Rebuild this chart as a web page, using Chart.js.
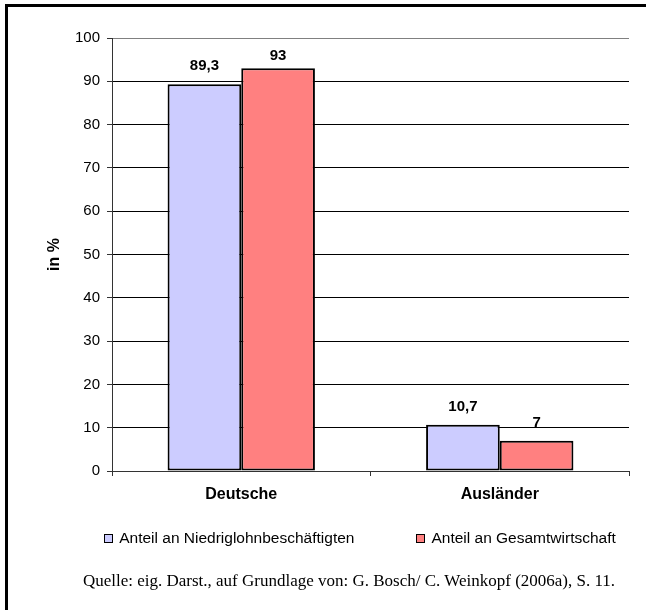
<!DOCTYPE html>
<html>
<head>
<meta charset="utf-8">
<title>Niedriglohn</title>
<script src="https://cdn.jsdelivr.net/npm/chart.js"></script>
<style>
    body { margin: 0; background: #fff; }
    #wrap { position: relative; width: 646px; height: 610px; overflow: hidden; }
    #rahmen { position: absolute; left: 5px; top: 4px; width: 760px; height: 700px; border: 3px solid #000; }
    canvas { position: absolute; left: 0; top: 0; }
    #legende {
        position: absolute; left: 0; top: 529px; width: 720px; height: 18px;
        display: flex; justify-content: center; gap: 62px;
        font-family: "Liberation Sans", Arial, sans-serif; font-size: 15.5px; line-height: 18px; color: #000;
    }
    #legende .eintrag { display: flex; align-items: center; white-space: nowrap; }
    #legende .kasten { width: 7px; height: 7px; border: 1px solid #000; margin-right: 6px; }
    #quelle {
        position: absolute; left: 0; top: 571px; width: 698px; line-height: 20px;
        text-align: center; font-family: "Liberation Serif", "Times New Roman", serif; font-size: 17px; color: #000;
    }
</style>
</head>
<body>
<div id="wrap">
    <div id="rahmen"></div>
    <canvas id="balken" width="646" height="610"></canvas>
    <div id="legende"></div>
    <div id="quelle">Quelle: eig. Darst., auf Grundlage von: G. Bosch/ C. Weinkopf (2006a), S. 11.</div>
</div>
<script>
var categories = ["Deutsche", "Ausländer"];
var seriesNames = ["Anteil an Niedriglohnbeschäftigten", "Anteil an Gesamtwirtschaft"];
var niedriglohn = [89.3, 10.7];
var gesamtwirtschaft = [93, 7];
var yMin = 0;
var yMax = 100;
var yStep = 10;

var schrift = "'Liberation Sans', Arial, sans-serif";

// Werte ueber den Balken (mit Komma)
var wertePlugin = {
    id: 'werte',
    afterDatasetsDraw: function (chart) {
        var ctx = chart.ctx;
        var area = chart.chartArea;
        ctx.save();
        ctx.font = "bold 15px " + schrift;
        ctx.fillStyle = "#000";
        ctx.textAlign = "center";
        ctx.textBaseline = "middle";
        chart.data.datasets.forEach(function (ds, i) {
            chart.getDatasetMeta(i).data.forEach(function (bar, j) {
                var txt = String(ds.data[j]).replace(".", ",");
                var y = Math.max(bar.y - 18, area.top + 18);
                ctx.fillText(txt, bar.x, y);
            });
        });
        ctx.restore();
    }
};

var ctx = document.getElementById("balken").getContext("2d");

var chart = new Chart(ctx, {
    type: 'bar',
    data: {
        labels: categories,
        datasets: [
            {
                label: seriesNames[0],
                data: niedriglohn,
                backgroundColor: "#ccccff",
                borderColor: "#000000",
                borderWidth: 2,
                borderSkipped: false
            },
            {
                label: seriesNames[1],
                data: gesamtwirtschaft,
                backgroundColor: "#ff8080",
                borderColor: "#000000",
                borderWidth: 2,
                borderSkipped: false
            }
        ]
    },
    options: {
        responsive: false,
        animation: false,
        devicePixelRatio: 1,
        categoryPercentage: 0.57,
        barPercentage: 1.0,
        layout: {
            padding: { left: 0, top: 38, right: 17, bottom: 99 }
        },
        plugins: {
            tooltip: { enabled: false },
            legend: { display: false }
        },
        scales: {
            x: {
                offset: true,
                afterFit: function (scale) { scale.height = 40; },
                grid: {
                    offset: true,
                    drawOnChartArea: true,
                    color: function (c) { return c.index === 2 ? "#808080" : "rgba(0,0,0,0)"; },
                    tickColor: "#333",
                    tickLength: 5
                },
                border: { color: "#333", width: 1 },
                ticks: {
                    padding: 9,
                    color: "#000",
                    font: { family: schrift, size: 16, weight: 'bold' }
                }
            },
            y: {
                min: yMin,
                max: yMax,
                afterFit: function (scale) { scale.width = 112; },
                title: {
                    display: true,
                    text: "in %",
                    color: "#000",
                    padding: { top: 45, bottom: 0 },
                    font: { family: schrift, size: 16, weight: 'bold' }
                },
                grid: {
                    color: function (c) { return c.tick && c.tick.value === yMax ? "#808080" : "#000"; },
                    tickColor: "#333",
                    tickLength: 5
                },
                border: { color: "#333", width: 1 },
                ticks: {
                    stepSize: yStep,
                    padding: 7,
                    color: "#000",
                    font: { family: schrift, size: 15 }
                }
            }
        }
    },
    plugins: [wertePlugin]
});

// Legende als HTML, aus den Datensaetzen gebaut
var legende = document.getElementById("legende");
chart.data.datasets.forEach(function (ds) {
    var eintrag = document.createElement("div");
    eintrag.className = "eintrag";
    var kasten = document.createElement("span");
    kasten.className = "kasten";
    kasten.style.background = ds.backgroundColor;
    var text = document.createElement("span");
    text.textContent = ds.label;
    eintrag.appendChild(kasten);
    eintrag.appendChild(text);
    legende.appendChild(eintrag);
});
</script>
</body>
</html>
